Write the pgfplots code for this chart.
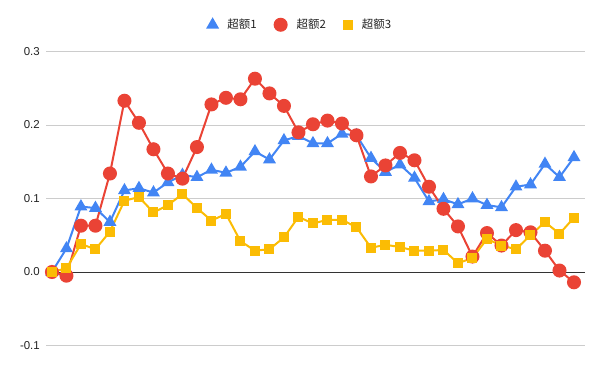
\documentclass[border=0pt]{standalone}
\usepackage{pgfplots}
\pgfplotsset{compat=1.18}
\usepackage{fontspec}
\setmainfont{Liberation Sans}
\newfontfamily\cjk{Noto Sans CJK SC}
\definecolor{gblue}{HTML}{4285F4}
\definecolor{gred}{HTML}{EA4335}
\definecolor{gyellow}{HTML}{FBBC04}
\definecolor{ggrid}{HTML}{CCCCCC}
\definecolor{gtext}{HTML}{222222}
\begin{document}
\begin{tikzpicture}[x=1bp,y=1bp]
\useasboundingbox (0,0) rectangle (600,371);
\begin{axis}[
  at={(46bp,25.5bp)}, anchor=south west,
  width=539bp, height=294bp, scale only axis,
  xmin=-0.41, xmax=36.76, ymin=-0.1, ymax=0.3,
  axis line style={draw=none},
  xtick=\empty,
  ytick={-0.1,0,0.1,0.2,0.3},
  yticklabels={-0.1,0.0,0.1,0.2,0.3},
  major tick length=0pt,
  ymajorgrids, grid style={ggrid, line width=0.8bp},
  yticklabel style={font=\fontsize{11.5}{13}\selectfont, text=gtext, inner sep=0pt, xshift=-6bp},
  clip=false,
  legend columns=3,
  legend style={at={(0.5,1)}, anchor=south, yshift=17bp, xshift=-15bp, draw=none, fill=none,
    font=\fontsize{11.5}{13}\selectfont\cjk, text=gtext,
    /tikz/every odd column/.style={column sep=8bp},
    /tikz/every even column/.style={column sep=16bp}},
  legend image code/.code={\draw[#1] plot coordinates {(0bp,0bp)};},
  every axis plot/.append style={line width=2bp},
]
\draw[color=black!80, line width=1bp] (axis cs:-0.41,0) -- (axis cs:36.76,0);
\addplot[color=gblue, mark=triangle*, mark size=5.5bp, mark options={draw=none, fill=gblue}] coordinates {
(0,0) (1,0.032) (2,0.089) (3,0.087) (4,0.068) (5,0.111) (6,0.114) (7,0.108) (8,0.122) (9,0.132)
(10,0.129) (11,0.139) (12,0.135) (13,0.143) (14,0.164) (15,0.153) (16,0.179) (17,0.185) (18,0.175) (19,0.175)
(20,0.188) (21,0.186) (22,0.155) (23,0.136) (24,0.146) (25,0.128) (26,0.096) (27,0.099) (28,0.092) (29,0.100)
(30,0.091) (31,0.088) (32,0.116) (33,0.119) (34,0.147) (35,0.129) (36,0.156)};
\addlegendentry{超额1}
\addplot[color=gred, mark=*, mark size=6bp, mark options={draw=none, fill=gred}] coordinates {
(0,0) (1,-0.005) (2,0.063) (3,0.063) (4,0.134) (5,0.233) (6,0.203) (7,0.167) (8,0.134) (9,0.127)
(10,0.170) (11,0.228) (12,0.237) (13,0.235) (14,0.263) (15,0.243) (16,0.226) (17,0.190) (18,0.201) (19,0.206)
(20,0.202) (21,0.186) (22,0.130) (23,0.145) (24,0.162) (25,0.152) (26,0.116) (27,0.086) (28,0.062) (29,0.021)
(30,0.053) (31,0.036) (32,0.057) (33,0.054) (34,0.029) (35,0.002) (36,-0.014)};
\addlegendentry{超额2}
\addplot[color=gyellow, mark=square*, mark size=4bp, mark options={draw=none, fill=gyellow}] coordinates {
(0,0) (1,0.005) (2,0.038) (3,0.031) (4,0.055) (5,0.097) (6,0.102) (7,0.081) (8,0.091) (9,0.106)
(10,0.087) (11,0.070) (12,0.079) (13,0.042) (14,0.029) (15,0.031) (16,0.047) (17,0.075) (18,0.066) (19,0.071)
(20,0.071) (21,0.061) (22,0.033) (23,0.037) (24,0.034) (25,0.029) (26,0.029) (27,0.030) (28,0.012) (29,0.019)
(30,0.045) (31,0.036) (32,0.031) (33,0.050) (34,0.068) (35,0.052) (36,0.074)};
\addlegendentry{超额3}
\end{axis}
\end{tikzpicture}
\end{document}
